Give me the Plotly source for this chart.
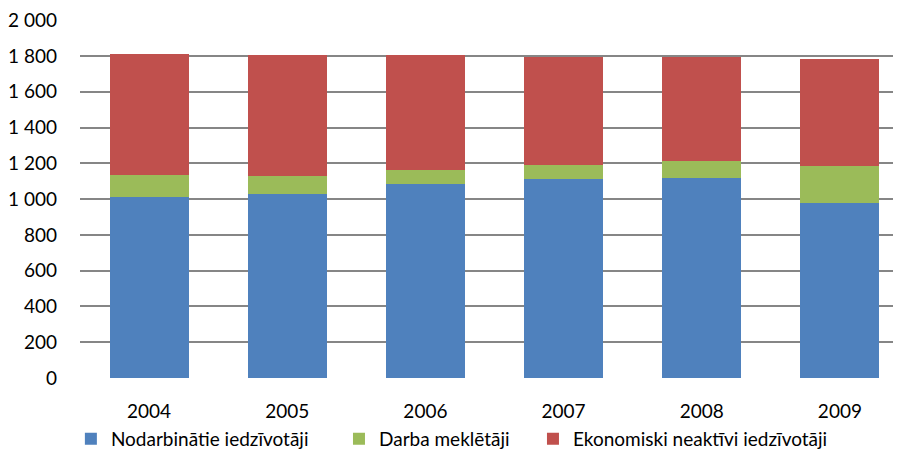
import plotly.graph_objects as go

years = ["2004", "2005", "2006", "2007", "2008", "2009"]
employed = [1012, 1030, 1082, 1113, 1118, 980]
jobseekers = [121, 99, 81, 75, 94, 203]
inactive = [678, 678, 642, 609, 580, 598]

names = ["Nodarbinātie iedzīvotāji", "Darba meklētāji", "Ekonomiski neaktīvi iedzīvotāji"]
colors = ["#4F81BD", "#9BBB59", "#C0504D"]
legend_ids = ["legend", "legend2", "legend3"]
legend_x = [-0.011, 0.3124, 0.5464]

FONT = "Lato, Calibri, Carlito, sans-serif"

fig = go.Figure()
for vals, name, col, lid in zip([employed, jobseekers, inactive], names, colors, legend_ids):
    fig.add_trace(go.Bar(x=years, y=vals, name=name, marker=dict(color=col, line=dict(width=0)),
                         width=0.571, legend=lid))

legend_common = dict(orientation="h", xanchor="left", y=-0.17, yanchor="middle",
                     font=dict(family=FONT, size=19), itemwidth=30,
                     bgcolor="rgba(0,0,0,0)")

fig.update_layout(
    width=901, height=452,
    barmode="stack",
    plot_bgcolor="white", paper_bgcolor="white",
    margin=dict(l=72, r=0, t=8, b=82),
    separators=". ",
    font=dict(family=FONT, size=19, color="#000000"),
    showlegend=True,
    legend=dict(x=legend_x[0], **legend_common),
    legend2=dict(x=legend_x[1], **legend_common),
    legend3=dict(x=legend_x[2], **legend_common),
    xaxis=dict(type="category", range=[-0.5, 5.5], showgrid=False, showline=False,
               ticks="", tickfont=dict(size=19), ticklabelstandoff=20),
    yaxis=dict(range=[0, 2001], tickvals=list(range(0, 2001, 200)), tickformat=",d",
               showgrid=True, gridcolor="#868686", gridwidth=1.5, zeroline=False,
               showline=False, ticks="", tickfont=dict(size=19), ticklabelstandoff=22,
               ticklabeloverflow="allow"),
)

fig.write_html("out.html")
